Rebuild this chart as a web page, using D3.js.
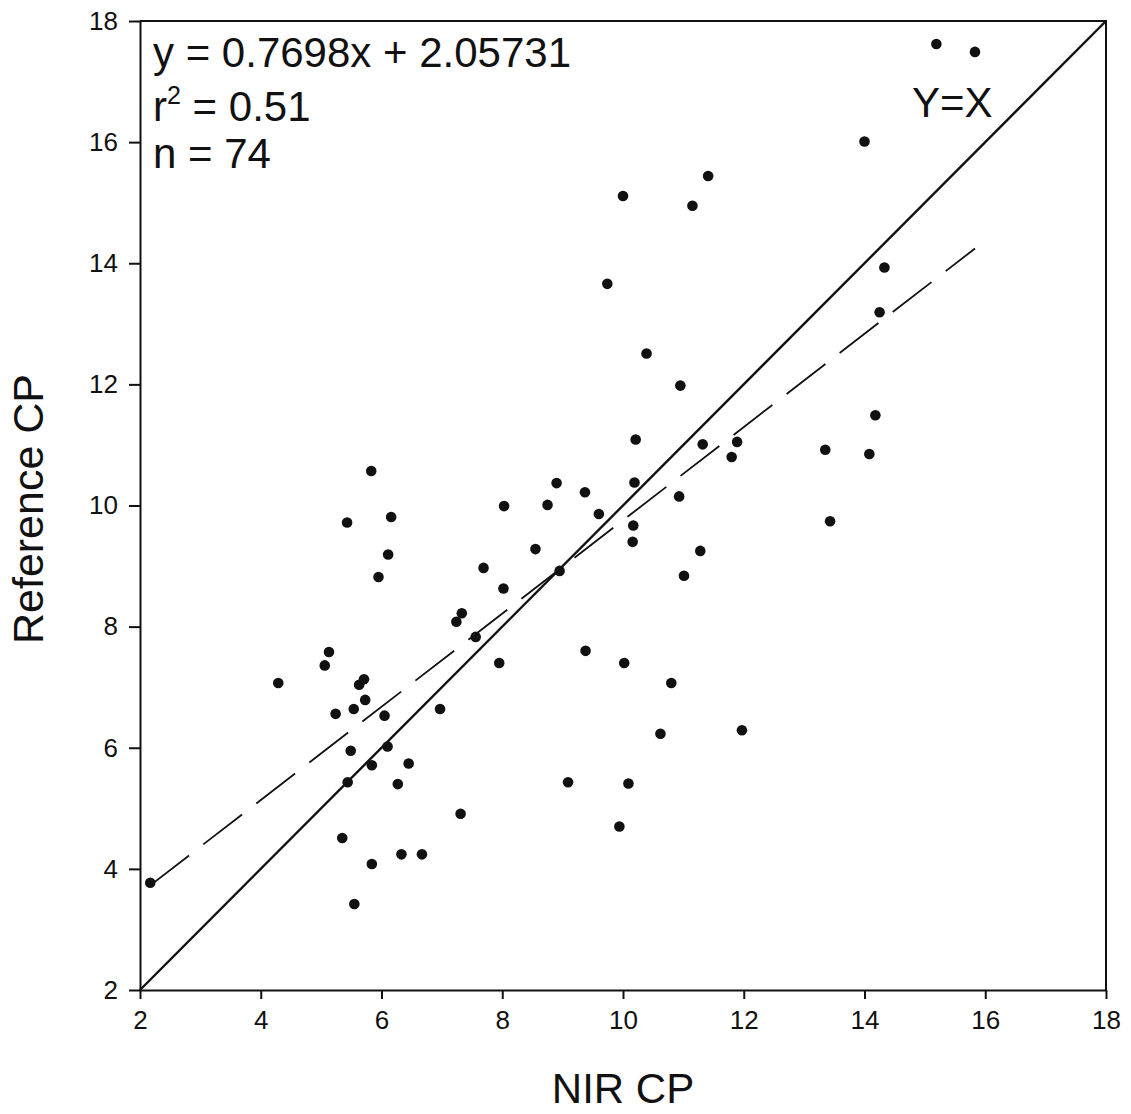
<!DOCTYPE html>
<html>
<head>
<meta charset="utf-8">
<script src="https://cdn.jsdelivr.net/npm/d3@7"></script>
<style>
  body { margin: 0; background: #fff; }
  svg { display: block; font-family: "Liberation Sans", Arial, sans-serif; }
  .axis path, .axis line { stroke: #111; stroke-width: 2; }
  .axis text { font-size: 26px; fill: #111; }
</style>
</head>
<body>
<svg id="chart" width="1131" height="1114"></svg>
<script>
// NIR CP (x) vs Reference CP (y)
const nirCP = [2.17, 4.29, 5.06, 5.13, 5.24, 5.43, 5.44, 5.35, 5.49, 5.54,
  5.55, 5.63, 5.71, 5.73, 5.83, 5.84, 5.84, 5.95, 6.05, 6.11,
  6.10, 6.16, 6.27, 6.33, 6.45, 6.67, 6.97, 7.24, 7.31, 7.33,
  7.56, 7.69, 7.95, 8.02, 8.03, 8.55, 8.75, 8.90, 8.95, 9.38,
  9.37, 9.60, 9.74, 10.00, 9.09, 9.94, 10.02, 10.09, 10.17, 10.16,
  10.19, 10.21, 10.39, 10.62, 10.80, 11.15, 11.41, 10.95, 10.93, 11.28,
  11.01, 11.32, 11.89, 11.80, 11.97, 13.35, 13.43, 14.08, 14.18, 14.25,
  14.33, 14.00, 15.19, 15.83];
const refCP = [3.77, 7.07, 7.36, 7.58, 6.56, 9.72, 5.43, 4.51, 5.95, 6.64,
  3.42, 7.04, 7.13, 6.79, 10.57, 5.71, 4.08, 8.82, 6.53, 9.19,
  6.02, 9.81, 5.40, 4.24, 5.74, 4.24, 6.64, 8.08, 4.91, 8.22,
  7.83, 8.97, 7.40, 8.63, 9.99, 9.28, 10.01, 10.37, 8.92, 7.60,
  10.22, 9.86, 13.66, 15.11, 5.43, 4.70, 7.40, 5.41, 9.67, 9.40,
  10.38, 11.09, 12.51, 6.23, 7.07, 14.95, 15.44, 11.98, 10.15, 9.25,
  8.84, 11.01, 11.05, 10.80, 6.29, 10.92, 9.74, 10.85, 11.49, 13.19,
  13.93, 16.01, 17.62, 17.49];

const ticks = [2, 4, 6, 8, 10, 12, 14, 16, 18];
const slope = 0.7698;
const intercept = 2.05731;
const fitRange = [2.17, 15.83];
const statLines = ["y = 0.7698x + 2.05731", "r", "n = 74"];

const svg = d3.select("#chart");
const x = d3.scaleLinear().domain([2, 18]).range([140, 1106]);
const y = d3.scaleLinear().domain([2, 18]).range([990, 21]);

// frame (top + right)
svg.append("path")
  .attr("d", `M${x(2)},${y(18)}H${x(18)}V${y(2)}`)
  .attr("fill", "none").attr("stroke", "#111").attr("stroke-width", 2);

svg.append("g").attr("class", "axis")
  .attr("transform", `translate(0,${y(2)})`)
  .call(d3.axisBottom(x).tickValues(ticks).tickSize(9).tickSizeOuter(0).tickPadding(12));

svg.append("g").attr("class", "axis")
  .attr("transform", `translate(${x(2)},0)`)
  .call(d3.axisLeft(y).tickValues(ticks).tickSize(11).tickSizeOuter(0).tickPadding(11));

// y = x line
svg.append("line")
  .attr("x1", x(2)).attr("y1", y(2)).attr("x2", x(18)).attr("y2", y(18))
  .attr("stroke", "#111").attr("stroke-width", 2.4);

// regression line
svg.append("line")
  .attr("x1", x(fitRange[0])).attr("y1", y(slope * fitRange[0] + intercept))
  .attr("x2", x(fitRange[1])).attr("y2", y(slope * fitRange[1] + intercept))
  .attr("stroke", "#111").attr("stroke-width", 1.8)
  .attr("stroke-dasharray", "49,18");

svg.append("g")
  .selectAll("circle")
  .data(nirCP)
  .join("circle")
  .attr("cx", d => x(d))
  .attr("cy", (d, i) => y(refCP[i]))
  .attr("r", 5.3)
  .attr("fill", "#111");

// stats text
const stats = svg.append("g").attr("font-size", 42).attr("fill", "#111");
stats.append("text").attr("x", 153).attr("y", 67).text(statLines[0]);
const r2 = stats.append("text").attr("x", 153).attr("y", 121);
r2.append("tspan").text(statLines[1]);
r2.append("tspan").attr("font-size", 25).attr("dy", -17).text("2");
r2.append("tspan").attr("dy", 17).text(" = 0.51");
stats.append("text").attr("x", 153).attr("y", 168).text(statLines[2]);

svg.append("text").attr("x", 912).attr("y", 117)
  .attr("font-size", 42).attr("fill", "#111").text("Y=X");

// axis titles
svg.append("text")
  .attr("x", 623).attr("y", 1103)
  .attr("text-anchor", "middle")
  .attr("font-size", 42).attr("fill", "#111")
  .text("NIR CP");

svg.append("text")
  .attr("transform", "translate(43,509) rotate(-90)")
  .attr("text-anchor", "middle")
  .attr("font-size", 43).attr("fill", "#111")
  .text("Reference CP");
</script>
</body>
</html>
